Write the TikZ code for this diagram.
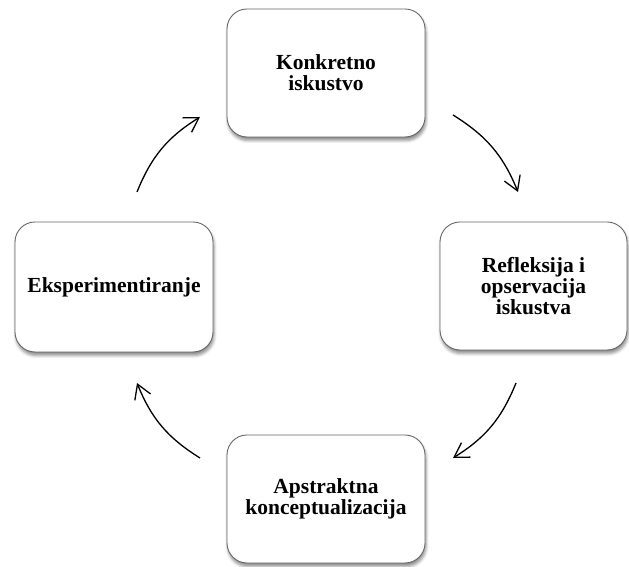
\documentclass[tikz,border=0pt]{standalone}
\usepackage{fontspec}
\setmainfont{Liberation Serif}
\usetikzlibrary{shadows.blur,arrows.meta}
\begin{document}
\begin{tikzpicture}[x=1pt,y=1pt,
  box/.style={draw=black!60, line width=0.9pt, fill=white, rounded corners=20pt,
    align=center, font=\fontsize{21.5}{21}\selectfont\bfseries,
    minimum width=198pt, minimum height=128pt, inner sep=0pt,
    blur shadow={shadow xshift=1pt, shadow yshift=-3.5pt, shadow blur radius=3pt, shadow opacity=45}},
  cyc/.style={line width=1.3pt, -{Straight Barb[length=14pt,width=17pt,line width=1.3pt]}, bend left=18}
]
\useasboundingbox (0,0) rectangle (629,567);
\node[box] (top) at (326,494) {Konkretno\\iskustvo};
\node[box, minimum width=187pt] (right) at (533.5,281) {Refleksija i\\opservacija\\iskustva};
\node[box] (bottom) at (326,68) {Apstraktna\\konceptualizacija};
\node[box, minimum height=130pt] (left) at (114,280) {Eksperimentiranje};
\coordinate (a1s) at (137,375); \coordinate (a1e) at (200,450);
\coordinate (a2s) at (453,452); \coordinate (a2e) at (518,375);
\coordinate (a3s) at (516,184); \coordinate (a3e) at (453,109);
\coordinate (a4s) at (200,109); \coordinate (a4e) at (137,184);
\draw[cyc] (a1s) to (a1e);
\draw[cyc] (a2s) to (a2e);
\draw[cyc] (a3s) to (a3e);
\draw[cyc] (a4s) to (a4e);
\end{tikzpicture}
\end{document}
